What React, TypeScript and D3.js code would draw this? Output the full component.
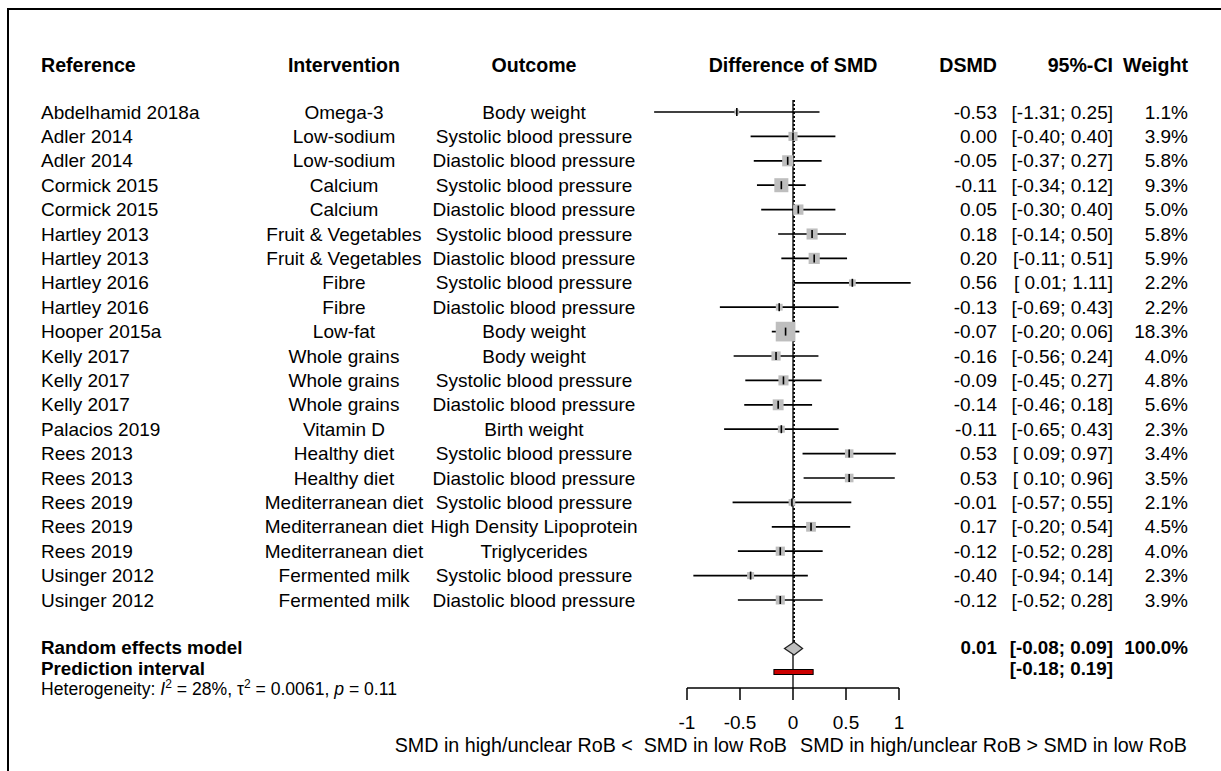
import React from "react";
import * as d3 from "d3";

// Study-level rows of the forest plot
const references = [
  "Abdelhamid 2018a", "Adler 2014", "Adler 2014", "Cormick 2015", "Cormick 2015",
  "Hartley 2013", "Hartley 2013", "Hartley 2016", "Hartley 2016", "Hooper 2015a",
  "Kelly 2017", "Kelly 2017", "Kelly 2017", "Palacios 2019", "Rees 2013",
  "Rees 2013", "Rees 2019", "Rees 2019", "Rees 2019", "Usinger 2012", "Usinger 2012",
];
const interventions = [
  "Omega-3", "Low-sodium", "Low-sodium", "Calcium", "Calcium",
  "Fruit & Vegetables", "Fruit & Vegetables", "Fibre", "Fibre", "Low-fat",
  "Whole grains", "Whole grains", "Whole grains", "Vitamin D", "Healthy diet",
  "Healthy diet", "Mediterranean diet", "Mediterranean diet", "Mediterranean diet",
  "Fermented milk", "Fermented milk",
];
const outcomes = [
  "Body weight", "Systolic blood pressure", "Diastolic blood pressure",
  "Systolic blood pressure", "Diastolic blood pressure", "Systolic blood pressure",
  "Diastolic blood pressure", "Systolic blood pressure", "Diastolic blood pressure",
  "Body weight", "Body weight", "Systolic blood pressure", "Diastolic blood pressure",
  "Birth weight", "Systolic blood pressure", "Diastolic blood pressure",
  "Systolic blood pressure", "High Density Lipoprotein", "Triglycerides",
  "Systolic blood pressure", "Diastolic blood pressure",
];
const dsmd = [
  -0.53, 0.0, -0.05, -0.11, 0.05, 0.18, 0.2, 0.56, -0.13, -0.07,
  -0.16, -0.09, -0.14, -0.11, 0.53, 0.53, -0.01, 0.17, -0.12, -0.4, -0.12,
];
const ciLower = [
  -1.31, -0.4, -0.37, -0.34, -0.3, -0.14, -0.11, 0.01, -0.69, -0.2,
  -0.56, -0.45, -0.46, -0.65, 0.09, 0.1, -0.57, -0.2, -0.52, -0.94, -0.52,
];
const ciUpper = [
  0.25, 0.4, 0.27, 0.12, 0.4, 0.5, 0.51, 1.11, 0.43, 0.06,
  0.24, 0.27, 0.18, 0.43, 0.97, 0.96, 0.55, 0.54, 0.28, 0.14, 0.28,
];
const weights = [
  1.1, 3.9, 5.8, 9.3, 5.0, 5.8, 5.9, 2.2, 2.2, 18.3,
  4.0, 4.8, 5.6, 2.3, 3.4, 3.5, 2.1, 4.5, 4.0, 2.3, 3.9,
];

// Pooled estimate [estimate, lower, upper] and prediction interval [lower, upper]
const pooled = [0.01, -0.08, 0.09];
const pooledWeight = 100.0;
const predictionInterval = [-0.18, 0.19];

const axisTicks = [-1, -0.5, 0, 0.5, 1];

const FONT = "'Liberation Sans', Arial, Helvetica, sans-serif";
const FS = 19;
const FS_BOLD = 19.6;
const FS_SUMMARY = 18.8;

const fmt2 = (v: number) => (v < 0 ? "-" : "") + Math.abs(v).toFixed(2);
const fmtCI = (lo: number, hi: number) =>
  `[${lo >= 0 ? "\u00A0" : ""}${fmt2(lo)}; ${fmt2(hi)}]`;

export default function App() {
  const width = 1221;
  const height = 771;

  const x = d3.scaleLinear().domain([-1, 1]).range([687, 899]);
  const firstRowY = 112;
  const rowStep = 24.4;
  const y = (i: number) => firstRowY + i * rowStep;

  const headerY = 65;
  const pooledY = 647;
  const diamondY = 648.5;
  const predY = 668.3;
  const predBarY = 672;
  const hetY = 689.2;
  const axisY = 688;
  const tickLen = 12;

  const colRef = 41;
  const colInt = 344;
  const colOut = 534;
  const colDsmd = 997;
  const colCI = 1113;
  const colW = 1188;

  const rows = references.map((r, i) => ({
    ref: r,
    int: interventions[i],
    out: outcomes[i],
    est: dsmd[i],
    lo: ciLower[i],
    hi: ciUpper[i],
    w: weights[i],
  }));

  const boxSide = (w: number) => 4.6 * Math.sqrt(w);

  const text = (
    key: string,
    tx: number,
    ty: number,
    s: React.ReactNode,
    anchor: "start" | "middle" | "end" = "start",
    bold = false,
    size?: number
  ) => (
    <text
      key={key}
      x={tx}
      y={ty}
      dy="0.35em"
      textAnchor={anchor}
      fontWeight={bold ? "bold" : "normal"}
      fontSize={size ?? (bold ? FS_BOLD : FS)}
      fontFamily={FONT}
      fill="#000"
    >
      {s}
    </text>
  );

  const diamond = [
    [x(pooled[1]), diamondY],
    [x(pooled[0]), diamondY - 6.5],
    [x(pooled[2]), diamondY],
    [x(pooled[0]), diamondY + 6.5],
  ];

  return (
    <svg
      width={width}
      height={height}
      style={{ position: "absolute", left: 0, top: 0, background: "#fff" }}
    >
      {/* frame */}
      <path d={`M8,${height + 5} L8,9 L${width + 5},9`} fill="none" stroke="#000" strokeWidth={2} />

      {/* column headers */}
      {text("h-ref", colRef, headerY, "Reference", "start", true)}
      {text("h-int", colInt, headerY, "Intervention", "middle", true)}
      {text("h-out", colOut, headerY, "Outcome", "middle", true)}
      {text("h-plot", x(0), headerY, "Difference of SMD", "middle", true)}
      {text("h-dsmd", colDsmd, headerY, "DSMD", "end", true)}
      {text("h-ci", colCI, headerY, "95%-CI", "end", true)}
      {text("h-w", colW, headerY, "Weight", "end", true)}

      {/* reference lines */}
      <line x1={x(0)} x2={x(0)} y1={100} y2={axisY} stroke="#000" strokeWidth={1.3} />
      <line
        x1={x(pooled[0])}
        x2={x(pooled[0])}
        y1={100}
        y2={diamondY - 6}
        stroke="#000"
        strokeWidth={1.8}
        strokeDasharray="2,2"
      />

      {/* study rows */}
      {rows.map((r, i) => {
        const cy = y(i);
        const s = boxSide(r.w);
        return (
          <g key={`row-${i}`}>
            {text(`ref-${i}`, colRef, cy, r.ref)}
            {text(`int-${i}`, colInt, cy, r.int, "middle")}
            {text(`out-${i}`, colOut, cy, r.out, "middle")}
            {text(`est-${i}`, colDsmd, cy, fmt2(r.est), "end")}
            {text(`ci-${i}`, colCI, cy, fmtCI(r.lo, r.hi), "end")}
            {text(`w-${i}`, colW, cy, r.w.toFixed(1) + "%", "end")}
            <line x1={x(r.lo)} x2={x(r.hi)} y1={cy} y2={cy} stroke="#000" strokeWidth={1.7} />
            <rect x={x(r.est) - s / 2} y={cy - s / 2} width={s} height={s} fill="#bebebe" />
            <line x1={x(r.est)} x2={x(r.est)} y1={cy - 4} y2={cy + 4} stroke="#000" strokeWidth={1.6} />
          </g>
        );
      })}

      {/* pooled estimate */}
      {text("re-label", colRef, pooledY, "Random effects model", "start", true, FS_SUMMARY)}
      {text("re-est", colDsmd, pooledY, fmt2(pooled[0]), "end", true, FS_SUMMARY)}
      {text("re-ci", colCI, pooledY, fmtCI(pooled[1], pooled[2]), "end", true, FS_SUMMARY)}
      {text("re-w", colW, pooledY, pooledWeight.toFixed(1) + "%", "end", true, FS_SUMMARY)}
      <polygon
        points={diamond.map((p) => p.join(",")).join(" ")}
        fill="#bebebe"
        stroke="#222"
        strokeWidth={1.3}
      />

      {/* prediction interval */}
      {text("pi-label", colRef, predY, "Prediction interval", "start", true, FS_SUMMARY)}
      {text("pi-ci", colCI, predY, fmtCI(predictionInterval[0], predictionInterval[1]), "end", true, FS_SUMMARY)}
      <rect
        x={x(predictionInterval[0])}
        y={predBarY - 2.5}
        width={x(predictionInterval[1]) - x(predictionInterval[0])}
        height={5}
        fill="#cc0000"
        stroke="#000"
        strokeWidth={1}
      />

      {/* heterogeneity */}
      <text x={colRef} y={hetY} dy="0.35em" fontSize={17.6} fontFamily={FONT}>
        Heterogeneity: <tspan fontStyle="italic">I</tspan>
        <tspan dy={-7} fontSize={12}>2</tspan>
        <tspan dy={7}> = 28%, τ</tspan>
        <tspan dy={-7} fontSize={12}>2</tspan>
        <tspan dy={7}> = 0.0061, </tspan>
        <tspan fontStyle="italic">p</tspan> = 0.11
      </text>

      {/* axis */}
      <line x1={x(-1)} x2={x(1)} y1={axisY} y2={axisY} stroke="#000" strokeWidth={1.5} />
      {axisTicks.map((t) => (
        <g key={`tick-${t}`}>
          <line x1={x(t)} x2={x(t)} y1={axisY} y2={axisY + tickLen} stroke="#000" strokeWidth={1.5} />
          {text(`tl-${t}`, x(t), 722, String(t), "middle")}
        </g>
      ))}
      {text("lab-left", x(0) - 6, 745, "SMD in high/unclear RoB <\u00A0 SMD in low RoB", "end", false, 19.7)}
      {text("lab-right", x(0) + 7, 745, "SMD in high/unclear RoB > SMD in low RoB", "start", false, 19.7)}
    </svg>
  );
}
